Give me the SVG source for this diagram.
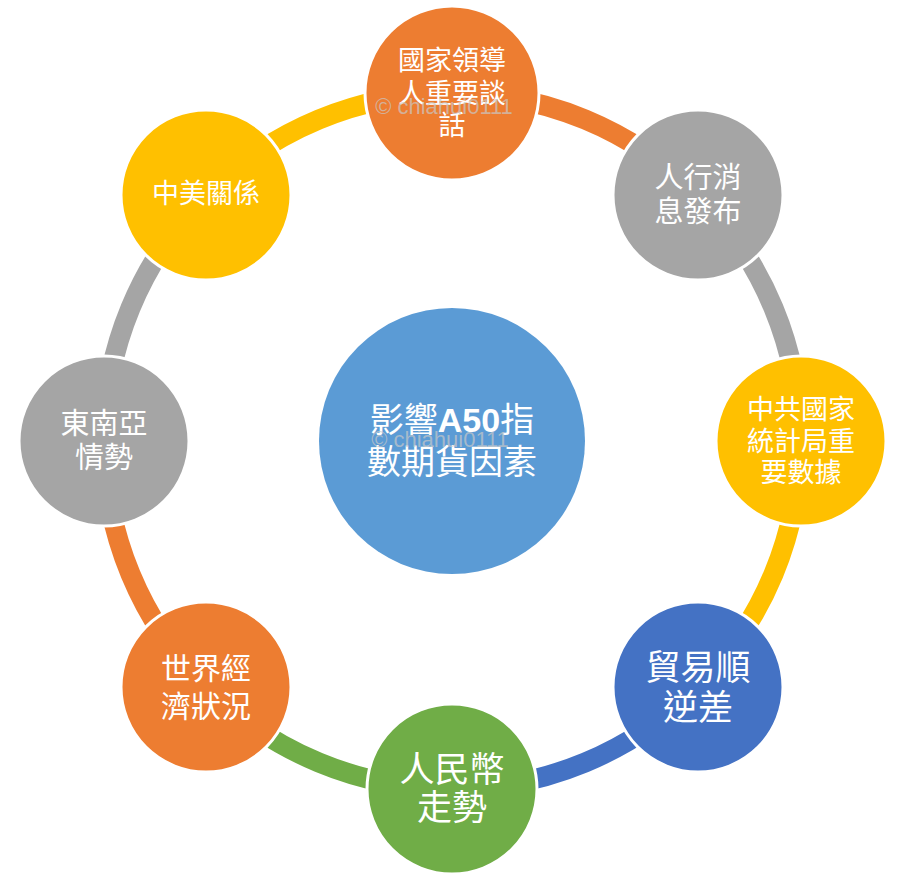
<svg xmlns="http://www.w3.org/2000/svg" width="911" height="891" viewBox="0 0 911 891">
<style>
.arc{fill:none;stroke-width:20}
.node{stroke:#fff;stroke-width:3}
.t{fill:#fff;font-family:"Noto Sans CJK TC","Noto Sans CJK SC",sans-serif;text-anchor:middle}
.wm{fill:#c8c8c8;fill-opacity:0.7;font-family:"Liberation Sans",Arial,sans-serif;font-size:22px;text-anchor:middle}
</style>
<rect width="911" height="891" fill="#fff"/>
<g id="connectors">
<path class="arc" stroke="#ED7D31" d="M452,93 A348,348 0 0 1 698,195"/>
<path class="arc" stroke="#A5A5A5" d="M698,195 A348,348 0 0 1 800,441"/>
<path class="arc" stroke="#FFC000" d="M800,441 A348,348 0 0 1 698,687"/>
<path class="arc" stroke="#4472C4" d="M698,687 A348,348 0 0 1 452,789"/>
<path class="arc" stroke="#70AD47" d="M452,789 A348,348 0 0 1 206,687"/>
<path class="arc" stroke="#ED7D31" d="M206,687 A348,348 0 0 1 104,441"/>
<path class="arc" stroke="#A5A5A5" d="M104,441 A348,348 0 0 1 206,195"/>
<path class="arc" stroke="#FFC000" d="M206,195 A348,348 0 0 1 452,93"/>
</g>
<g id="center">
<circle cx="452" cy="441" r="133" fill="#5B9BD5"/>
<text class="t" font-size="34" x="452" y="432">影響<tspan font-family="Liberation Sans,sans-serif" font-weight="bold">A50</tspan>指</text>
<text class="t" font-size="34" x="452" y="474">數期貨因素</text>
<text class="wm" x="440" y="447">© chiahui0111</text>
</g>
<g id="n1">
<circle class="node" cx="452" cy="93" r="87" fill="#ED7D31"/>
<text class="t" font-size="27" x="452" y="70">國家領導</text>
<text class="t" font-size="27" x="452" y="103">人重要談</text>
<text class="t" font-size="27" x="452" y="135">話</text>
<text class="wm" x="444" y="114">© chiahui0111</text>
</g>
<g id="n2">
<circle class="node" cx="698" cy="195" r="85" fill="#A5A5A5"/>
<text class="t" font-size="29" x="698" y="188">人行消</text>
<text class="t" font-size="29" x="698" y="222">息發布</text>
</g>
<g id="n3">
<circle class="node" cx="801" cy="441" r="85" fill="#FFC000"/>
<text class="t" font-size="27" x="801" y="419">中共國家</text>
<text class="t" font-size="27" x="801" y="451">統計局重</text>
<text class="t" font-size="27" x="801" y="482">要數據</text>
</g>
<g id="n4">
<circle class="node" cx="698" cy="687" r="85" fill="#4472C4"/>
<text class="t" font-size="35" x="698" y="680">貿易順</text>
<text class="t" font-size="35" x="698" y="720">逆差</text>
</g>
<g id="n5">
<circle class="node" cx="452" cy="789" r="85" fill="#70AD47"/>
<text class="t" font-size="35" x="452" y="782">人民幣</text>
<text class="t" font-size="35" x="452" y="820">走勢</text>
</g>
<g id="n6">
<circle class="node" cx="206" cy="687" r="85" fill="#ED7D31"/>
<text class="t" font-size="30" x="206" y="679">世界經</text>
<text class="t" font-size="30" x="206" y="717">濟狀況</text>
</g>
<g id="n7">
<circle class="node" cx="104" cy="441" r="85" fill="#A5A5A5"/>
<text class="t" font-size="29" x="104" y="434">東南亞</text>
<text class="t" font-size="29" x="104" y="468">情勢</text>
</g>
<g id="n8">
<circle class="node" cx="206" cy="195" r="85" fill="#FFC000"/>
<text class="t" font-size="27" x="206" y="203">中美關係</text>
</g>
</svg>
